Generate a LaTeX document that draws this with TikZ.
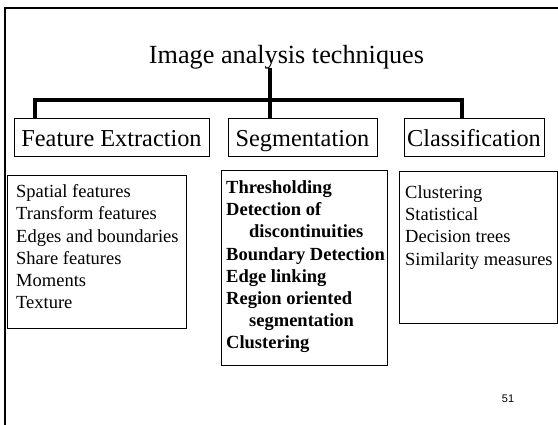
\documentclass[tikz,border=0pt]{standalone}
\usepackage{fontspec}
\setmainfont{Liberation Serif}
\newfontfamily\pagenumfont{Liberation Sans}
\usetikzlibrary{positioning}

\tikzset{
  headbox/.style={draw, line width=0.8pt, minimum height=38pt, inner sep=0pt,
    font=\fontsize{24.3}{28}\selectfont, text height=21pt, text depth=2pt},
  listbox/.style={draw, line width=0.8pt, inner sep=0pt},
  listtext/.style={align=left, inner sep=0pt, anchor=north west,
    font=\fontsize{18.5}{22.2}\selectfont},
  busline/.style={line width=4pt, line join=miter}
}

\begin{document}
\begin{tikzpicture}[x=1pt, y=-1pt]
\clip (0,0) rectangle (558,424);
\draw[line width=2pt] (5,440) -- (5,8) -- (570,8);

\node[anchor=base, inner sep=0pt, font=\fontsize{26.2}{30}\selectfont] (title) at (286.5,63) {Image analysis techniques};

\node[headbox, minimum width=195pt] (feature) at (111.5,137) {Feature Extraction};
\node[headbox, minimum width=149pt] (segment) at (302.5,137) {Segmentation};
\node[headbox, minimum width=140pt] (classify) at (474,137) {Classification};

\coordinate (stemtop) at (270,68);
\coordinate (featuretop) at (35,118);
\coordinate (segmenttop) at (270,118);
\coordinate (classifytop) at (462,118);
\draw[busline] (stemtop) -- (segmenttop);
\draw[busline] (featuretop) |- (classifytop |- 0,100) -- (classifytop);

\node[listbox, minimum width=179pt, minimum height=153pt] (featurelist) at (96.5,251.5) {};
\node[listbox, minimum width=166pt, minimum height=195pt] (segmentlist) at (304,267.5) {};
\node[listbox, minimum width=158pt, minimum height=152pt] (classifylist) at (478,247) {};

\node[listtext] (featuretext) at (16,184.5) {Spatial features\\Transform features\\Edges and boundaries\\Share features\\Moments\\Texture};
\node[listtext, font=\fontsize{18.5}{22.2}\selectfont\bfseries] (segmenttext) at (226,180.5) {Thresholding\\Detection of\\\hspace*{23pt}discontinuities\\Boundary Detection\\Edge linking\\Region oriented\\\hspace*{23pt}segmentation\\Clustering};
\node[listtext] (classifytext) at (405,185.5) {Clustering\\Statistical\\Decision trees\\Similarity measures};

\node[anchor=base, inner sep=0pt, font=\pagenumfont\fontsize{11}{13}\selectfont] (pagenum) at (508,402) {51};
\end{tikzpicture}
\end{document}
